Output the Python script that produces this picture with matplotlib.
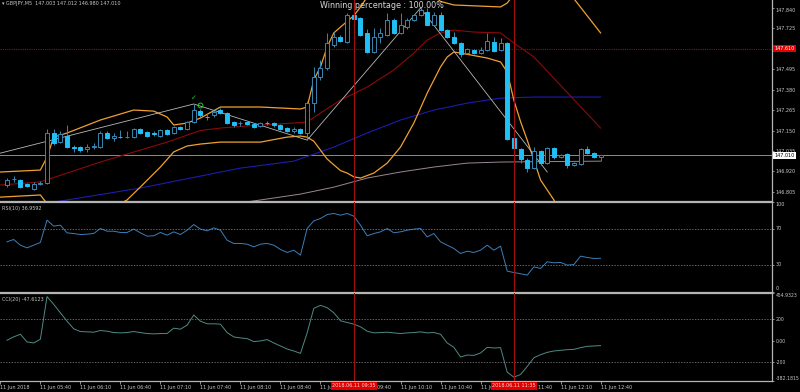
import numpy as np
import matplotlib
matplotlib.use('Agg')
import matplotlib.pyplot as plt
import matplotlib.transforms as mtrans

# GBPJPY M5 candles, 11 Jun 2018 05:15 .. 12:40
opens = [146.844, 146.875, 146.872, 146.849, 146.821, 146.852, 146.855, 147.136, 147.085, 147.119,
         147.060, 147.057, 147.046, 147.060, 147.057, 147.136, 147.108, 147.116, 147.113, 147.113,
         147.158, 147.141, 147.136, 147.119, 147.153, 147.136, 147.170, 147.158, 147.198, 147.259,
         147.228, 147.237, 147.265, 147.248, 147.198, 147.190, 147.198, 147.186, 147.175, 147.192,
         147.192, 147.181, 147.164, 147.147, 147.158, 147.136, 147.304, 147.450, 147.501, 147.630,
         147.675, 147.647, 147.799, 147.782, 147.698, 147.591, 147.675, 147.686, 147.771, 147.698,
         147.731, 147.771, 147.799, 147.816, 147.743, 147.799, 147.714, 147.675, 147.641, 147.585,
         147.602, 147.585, 147.602, 147.647, 147.602, 147.641, 147.108, 147.046, 146.984, 146.939,
         147.035, 146.967, 147.052, 147.004, 147.018, 146.956, 146.962, 147.046, 147.023, 147.003]
highs = [146.883, 146.894, 146.878, 146.855, 146.861, 146.866, 147.158, 147.158, 147.147, 147.181,
         147.068, 147.063, 147.074, 147.080, 147.147, 147.147, 147.136, 147.153, 147.147, 147.164,
         147.164, 147.147, 147.147, 147.158, 147.158, 147.175, 147.175, 147.203, 147.299, 147.270,
         147.248, 147.265, 147.276, 147.254, 147.203, 147.203, 147.203, 147.192, 147.198, 147.203,
         147.198, 147.186, 147.170, 147.170, 147.164, 147.315, 147.507, 147.546, 147.698, 147.703,
         147.686, 147.810, 147.810, 147.788, 147.720, 147.726, 147.726, 147.810, 147.782, 147.810,
         147.782, 147.805, 147.838, 147.838, 147.816, 147.816, 147.720, 147.703, 147.647, 147.613,
         147.608, 147.619, 147.698, 147.675, 147.670, 147.647, 147.113, 147.052, 146.995, 147.057,
         147.040, 147.057, 147.057, 147.018, 147.023, 146.973, 147.052, 147.063, 147.029, 147.012]
lows = [146.832, 146.861, 146.827, 146.832, 146.816, 146.844, 146.849, 147.068, 147.080, 147.052,
        147.029, 147.029, 147.029, 147.046, 147.052, 147.102, 147.091, 147.108, 147.108, 147.108,
        147.130, 147.113, 147.119, 147.113, 147.125, 147.130, 147.153, 147.153, 147.192, 147.226,
        147.209, 147.226, 147.242, 147.186, 147.170, 147.175, 147.181, 147.165, 147.170, 147.181,
        147.170, 147.153, 147.141, 147.136, 147.130, 147.096, 147.254, 147.434, 147.490, 147.619,
        147.647, 147.641, 147.771, 147.680, 147.585, 147.585, 147.641, 147.680, 147.692, 147.692,
        147.720, 147.765, 147.793, 147.743, 147.737, 147.709, 147.669, 147.636, 147.563, 147.580,
        147.580, 147.580, 147.596, 147.591, 147.596, 147.096, 147.029, 146.967, 146.917, 146.933,
        146.956, 146.962, 146.990, 146.995, 146.939, 146.950, 146.956, 147.018, 146.995, 146.980]
closes = [146.872, 146.878, 146.832, 146.838, 146.849, 146.855, 147.136, 147.080, 147.130, 147.057,
          147.054, 147.040, 147.057, 147.063, 147.136, 147.108, 147.119, 147.113, 147.116, 147.158,
          147.136, 147.119, 147.133, 147.153, 147.130, 147.170, 147.158, 147.198, 147.265, 147.237,
          147.226, 147.254, 147.248, 147.192, 147.181, 147.192, 147.186, 147.170, 147.192, 147.190,
          147.181, 147.158, 147.147, 147.158, 147.136, 147.304, 147.450, 147.501, 147.641, 147.675,
          147.653, 147.799, 147.777, 147.686, 147.591, 147.675, 147.698, 147.771, 147.698, 147.743,
          147.771, 147.799, 147.827, 147.743, 147.799, 147.714, 147.675, 147.641, 147.580, 147.608,
          147.585, 147.602, 147.653, 147.596, 147.641, 147.102, 147.052, 146.990, 146.939, 147.035,
          146.967, 147.052, 147.001, 147.010, 146.956, 146.967, 147.046, 147.023, 147.001, 147.010]

# indicator lines at (bar, price) points
bb_upper_bars = [-1, 5, 6, 7, 9, 14, 19, 22, 24, 25, 27, 29, 32, 38, 44, 45, 46, 47, 48, 49, 50,
                 52, 53, 54, 59, 64, 65, 67, 74, 75, 80, 85, 89]
bb_upper = [146.917, 146.928, 147.000, 147.113, 147.136, 147.209, 147.265, 147.259, 147.226, 147.181,
            147.192, 147.220, 147.282, 147.282, 147.271, 147.282, 147.434, 147.507, 147.619, 147.698,
            147.731, 147.795, 147.844, 147.900, 147.970, 147.905, 147.875, 147.855, 147.844, 147.866,
            148.110, 147.890, 147.698]
bb_lower_bars = [-1, 5, 6, 8, 12, 16, 18, 20, 23, 25, 27, 29, 32, 38, 42, 44, 45, 46, 47, 48, 50,
                 51, 52, 53, 55, 57, 59, 61, 63, 65, 66, 67, 68, 72, 74, 75, 76, 77, 78, 80, 82, 85, 89]
bb_lower = [146.776, 146.788, 146.740, 146.680, 146.660, 146.720, 146.760, 146.833, 146.945, 147.030,
            147.063, 147.074, 147.085, 147.085, 147.113, 147.119, 147.113, 147.090, 147.040, 146.990,
            146.925, 146.911, 146.890, 146.883, 146.911, 146.967, 147.057, 147.192, 147.360, 147.507,
            147.563, 147.591, 147.585, 147.557, 147.535, 147.479, 147.320, 147.200, 147.096, 146.872,
            146.760, 146.540, 146.300]
ma_red_bars = [-1, 5, 14, 19, 24, 29, 32, 38, 43, 45, 47, 50, 54, 58, 61, 63, 65, 67, 70, 74, 76, 79, 89]
ma_red = [146.844, 146.861, 146.973, 147.029, 147.085, 147.150, 147.164, 147.181, 147.192, 147.198,
          147.248, 147.321, 147.394, 147.490, 147.585, 147.658, 147.698, 147.714, 147.703, 147.698,
          147.641, 147.563, 147.164]
ma_blue_bars = [-1, 9, 20, 29, 35, 43, 49, 54, 59, 64, 69, 74, 79, 89]
ma_blue = [146.700, 146.760, 146.827, 146.894, 146.939, 146.978, 147.057, 147.136, 147.209, 147.265,
           147.304, 147.332, 147.338, 147.338]
ma_slow_bars = [-1, 38, 44, 49, 54, 59, 64, 69, 74, 89]
ma_slow = [146.550, 146.760, 146.793, 146.832, 146.883, 146.917, 146.945, 146.967, 146.973, 146.978]
zigzag_bars = [-1, 28, 45, 62, 81]
zigzag = [147.023, 147.299, 147.096, 147.838, 146.917]

rsi = [55.2, 57.8, 51.5, 48.5, 51.5, 54.5, 79.3, 72.6, 73.7, 65.2,
       64.4, 63.3, 63.7, 64.4, 70.0, 67.0, 67.0, 65.6, 65.6, 69.3,
       65.2, 61.5, 61.9, 65.6, 62.6, 66.3, 63.3, 68.1, 74.4, 69.3,
       67.4, 70.7, 68.1, 57.0, 53.4, 53.4, 52.6, 49.6, 52.6, 53.4,
       51.5, 46.7, 43.4, 45.9, 40.4, 70.0, 78.5, 81.1, 85.5, 86.7,
       84.8, 86.7, 83.7, 73.7, 61.9, 64.4, 66.3, 70.0, 65.2, 66.3,
       68.1, 69.3, 70.0, 60.7, 64.4, 55.2, 51.5, 47.8, 42.2, 44.8,
       43.4, 45.9, 51.5, 45.9, 50.4, 22.6, 21.1, 19.7, 18.2, 27.4,
       25.6, 33.0, 31.9, 32.3, 29.3, 30.0, 39.3, 37.8, 36.7, 36.96]
cci = [3.2, 34.9, 60.3, -12.7, -22.2, 12.7, 416.0, 342.9, 263.5, 184.2,
       111.1, 85.7, 82.6, 79.4, 95.3, 88.9, 76.2, 73.0, 76.2, 85.7,
       76.2, 66.7, 63.5, 66.7, 66.7, 117.5, 108.0, 146.1, 241.3, 184.2,
       158.8, 158.8, 155.6, 76.2, 34.9, 25.4, 19.1, -9.5, -3.2, 9.5,
       -22.2, -50.8, -79.4, -98.4, -120.7, 73.0, 304.8, 333.4, 311.2, 263.5,
       187.3, 171.5, 155.6, 130.2, 88.9, 73.0, 76.2, 79.4, 73.0, 66.7,
       73.0, 76.2, 82.6, 73.0, 76.2, 60.3, -22.2, -63.5, -155.6, -136.5,
       -139.7, -117.5, -63.5, -69.9, -66.7, -298.5, -346.0, -320.7, -244.5, -161.9,
       -133.4, -111.1, -98.4, -92.1, -85.7, -82.6, -66.7, -54.0, -50.8, -47.61]

# 147.610 is shown by the red level box instead of a plain tick label
price_ticks = [146.805, 146.920, 147.035, 147.150, 147.265, 147.380, 147.495, 147.725, 147.840]
rsi_ticks = [0, 30, 70, 100]
cci_ticks = [-382.1815, -200, 0, 200, 454.9323]
cci_tick_labels = ['-382.1815', '-200', '0.00', '200', '454.9323']
time_bars = [-1, 5, 11, 17, 23, 29, 35, 41, 47, 53, 59, 65, 71, 77, 83, 89]
time_labels = ['11 Jun 2018', '11 Jun 05:40', '11 Jun 06:10', '11 Jun 06:40', '11 Jun 07:10',
               '11 Jun 07:40', '11 Jun 08:10', '11 Jun 08:40', '11 Jun 09:10', '11 Jun 09:40',
               '11 Jun 10:10', '11 Jun 10:40', '11 Jun 11:10', '11 Jun 11:40', '11 Jun 12:10',
               '11 Jun 12:40']
vline_bars = [52, 76]
vline_labels = ['2018.06.11 09:35', '2018.06.11 11:35']
level_price = 147.610
bid_price = 147.010
buy_mark = (28, 147.335)
entry_mark = (29, 147.293)

txt = '#c8c8c8'
spine_col = '#b4b4b4'
bull_col = '#3a86b0'
bear_col = '#1ec0f5'
fs = 3.5

W, H = 800, 392
fig = plt.figure(figsize=(8, 3.92), dpi=100, facecolor='black')


def px_axes(x0, y0, x1, y1):
    return fig.add_axes([x0 / W, 1 - y1 / H, (x1 - x0) / W, (y1 - y0) / H])


ax = px_axes(0, 0, 772, 200.5)
ax_rsi = px_axes(0, 201.5, 772, 291.5)
ax_cci = px_axes(0, 292.5, 772, 381)

for a in (ax, ax_rsi, ax_cci):
    a.set_facecolor('black')
    a.set_xlim(-1.05, 114.7)
    a.yaxis.tick_right()
    a.tick_params(axis='y', colors=txt, labelsize=fs, length=1.5, width=0.5, pad=1)
    for s in a.spines.values():
        s.set_color(spine_col)
        s.set_linewidth(0.9)
    a.spines['left'].set_visible(False)
    for b in vline_bars:
        a.axvline(b, color='#a01010', lw=0.8, zorder=6)
ax.spines['top'].set_visible(False)
for a in (ax, ax_rsi):
    a.tick_params(axis='x', bottom=False, labelbottom=False)

# main price panel
ax.set_ylim(146.757, 147.883)
ax.axhline(level_price, color='#b00000', lw=0.8, ls=(0, (1, 1)), zorder=1)
ax.axhline(bid_price, color='#8c8c8c', lw=0.7, zorder=1)
ax.plot(ma_slow_bars, ma_slow, color='#9a8696', lw=0.7, zorder=2)
ax.plot(ma_blue_bars, ma_blue, color='#1c1cb0', lw=0.8, zorder=2)
ax.plot(ma_red_bars, ma_red, color='#8b0a0a', lw=0.8, zorder=2)
ax.plot(bb_upper_bars, bb_upper, color='#f0a030', lw=0.9, zorder=2)
ax.plot(bb_lower_bars, bb_lower, color='#f0a030', lw=0.9, zorder=2)
ax.plot(zigzag_bars, zigzag, color='#b8b8b8', lw=0.6, zorder=2)

idx = np.arange(len(closes))
o, hi, lo, c = map(np.array, (opens, highs, lows, closes))
up = c >= o
ax.vlines(idx, lo, hi, color=bull_col, lw=0.7, zorder=3)
body_lo = np.minimum(o, c)
body_h = np.maximum(np.abs(c - o), 0.0008)
ax.bar(idx[up], body_h[up], bottom=body_lo[up], width=0.6, facecolor='black',
       edgecolor=bull_col, lw=0.7, zorder=4)
ax.bar(idx[~up], body_h[~up], bottom=body_lo[~up], width=0.6, facecolor=bear_col,
       edgecolor=bear_col, lw=0.7, zorder=4)

ax.text(buy_mark[0], buy_mark[1], '\u2713', color='#30c030', fontsize=5, fontweight='bold',
        ha='center', va='center', zorder=7)
ax.plot(*entry_mark, 'o', mfc='none', mec='#30c030', ms=3.5, mew=0.7, zorder=7)

ax.set_yticks(price_ticks)
ax.set_yticklabels([f'{p:.3f}' for p in price_ticks])
ax.get_yticklabels()[-1].set_va('top')

ybl = mtrans.blended_transform_factory(ax.transAxes, ax.transData)
ax.text(1.003, level_price, f'{level_price:.3f}', transform=ybl, ha='left', va='center',
        fontsize=fs, color='white', clip_on=False, zorder=10,
        bbox=dict(boxstyle='square,pad=0.25', fc='#e00000', ec='none'))
ax.text(1.003, bid_price, f'{bid_price:.3f}', transform=ybl, ha='left', va='center',
        fontsize=fs, color='black', clip_on=False, zorder=10,
        bbox=dict(boxstyle='square,pad=0.25', fc='white', ec='none'))

fig.text(2 / W, 1 - 3.5 / H, '\u25be GBPJPY,M5  147.003 147.012 146.980 147.010',
         ha='left', va='center', fontsize=fs, color=txt)
fig.text(381.5 / W, 1 - 6 / H, 'Winning percentage : 100.00%', ha='center', va='center',
         fontsize=5.8, color='#d8d8d8')

# RSI panel
ax_rsi.set_ylim(0, 100)
ax_rsi.plot(idx, rsi, color='#3d7eb8', lw=0.7)
for lv in (70, 30):
    ax_rsi.axhline(lv, color='#8a8a8a', lw=0.5, ls=(0, (2, 2)))
ax_rsi.set_yticks(rsi_ticks)
ax_rsi.set_yticklabels([str(t) for t in rsi_ticks])
ax_rsi.get_yticklabels()[0].set_va('bottom')
ax_rsi.get_yticklabels()[-1].set_va('top')
ax_rsi.text(0.003, 0.95, f'RSI(10) {36.9592:.4f}', transform=ax_rsi.transAxes, ha='left',
            va='top', fontsize=fs, color=txt)

# CCI panel
ax_cci.set_ylim(cci_ticks[0], cci_ticks[-1])
ax_cci.plot(idx, cci, color='#4e8b86', lw=0.7)
for lv in (200, -200):
    ax_cci.axhline(lv, color='#8a8a8a', lw=0.5, ls=(0, (2, 2)))
ax_cci.set_yticks(cci_ticks)
ax_cci.set_yticklabels(cci_tick_labels)
ax_cci.tick_params(axis='y', labelsize=3.3)
ax_cci.get_yticklabels()[0].set_va('bottom')
ax_cci.get_yticklabels()[-1].set_va('top')
ax_cci.text(0.003, 0.95, 'CCI(20) -47.6123', transform=ax_cci.transAxes, ha='left',
            va='top', fontsize=fs, color=txt)

ax_cci.set_xticks(time_bars)
ax_cci.set_xticklabels(time_labels, ha='left')
ax_cci.tick_params(axis='x', colors=txt, labelsize=fs, length=2, width=0.5, pad=1)

xbl = mtrans.blended_transform_factory(ax_cci.transData, ax_cci.transAxes)
for b, lab in zip(vline_bars, vline_labels):
    ax_cci.text(b, -0.025, lab, transform=xbl, ha='center', va='top', fontsize=fs,
                color='#ffd8d8', clip_on=False, zorder=10,
                bbox=dict(boxstyle='square,pad=0.3', fc='#e00000', ec='none'))

fig.savefig('out.png', dpi=100, facecolor='black')
